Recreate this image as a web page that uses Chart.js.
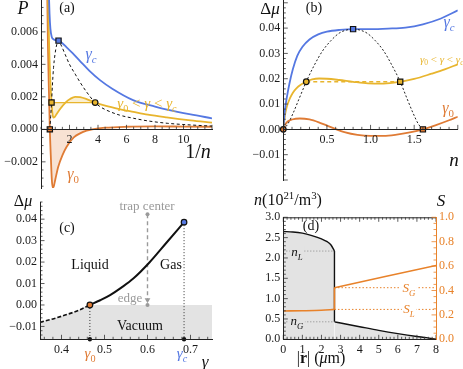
<!DOCTYPE html>
<html><head><meta charset="utf-8">
<script src="https://cdn.jsdelivr.net/npm/chart.js@4/dist/chart.umd.min.js"></script>
<style>
html,body{margin:0;padding:0;background:#fff;}
body{width:463px;height:369px;overflow:hidden;position:relative;}
canvas{position:absolute;}
</style></head><body>
<script>
const FONT='"Liberation Serif","DejaVu Serif",serif';
const BLUE='#5578e2', YEL='#e8b52e', ORG='#df7b35', DORG='#e8822a', GFILL='#e3e3e3', TGRAY='#9a9a9a';

// ---------- (a) P vs 1/n ----------
const aBlueX=[0.56,0.6,0.66,0.75,0.9,1.05,1.23,1.5,1.8,2.2,2.74,3.4,4.14,5,6.46,8,8.84,10.5,12];
const aBlueY=[0.0082,0.0071,0.0062,0.0057,0.00553,0.00549,0.00546,0.0053,0.00505,0.0047,0.0042,0.0036,0.00303,0.0025,0.0018,0.0014,0.00122,0.00092,0.00068];
const aYelX=[0.5,0.56,0.65,0.74,0.8,0.87,0.95,1.1,1.3,1.5,1.75,2.04,2.4,2.74,3.2,3.8,4.5,5.5,6.48,7.5,8.82,10.5,12];
const aYelY=[0.0082,0.0055,0.0031,0.00165,0.001,0.00072,0.00075,0.00095,0.0012,0.00143,0.00168,0.00187,0.002,0.00198,0.00186,0.00165,0.00146,0.00125,0.00108,0.00091,0.00074,0.00055,0.00041];
const aOrgX=[0.44,0.49,0.56,0.62,0.7,0.76,0.83,0.9,1.0,1.21,1.5,1.8,2.3,2.74,3.2,3.6,4.5,6,8,10,12];
const aOrgY=[0.0082,0.005,0.0022,0,-0.0019,-0.0031,-0.0036,-0.0035,-0.0031,-0.0023,-0.0016,-0.00107,-0.0005,-0.00025,-0.00008,0,0.0001,0.00016,0.00018,0.00017,0.00016];
const aDashX=[0.62,0.68,0.74,0.8,0.88,0.98,1.1,1.23,1.4,1.7,2.0,2.4,2.74,3.2,3.8,4.14,4.5,5.5,6.5,7.5,8.9,10.5,12];
const aDashY=[0,0.0008,0.00165,0.0027,0.0038,0.0046,0.0052,0.00546,0.0052,0.0046,0.004,0.0034,0.0029,0.0023,0.00164,0.0014,0.00122,0.00088,0.00068,0.00052,0.00037,0.00027,0.0002];
const aMaxP=0.00165, aMaxX=[0.74,3.8];      // Maxwell line of the middle curve
const aOrgZeroX=[0.62,3.6];                 // shaded region of gamma0 curve
const aMarkX=[0.62,0.74,1.23,3.8], aMarkY=[0,0.00165,0.00546,0.00165];
const aYTicks=[-0.002,0,0.002,0.004,0.006], aXTicks=[2,4,6,8,10];

// ---------- (b) Δμ vs n ----------
const bBlueX=[0,0.01,0.02,0.04,0.07,0.11,0.16,0.22,0.3,0.4,0.5,0.65,0.8,1.0,1.2,1.4,1.6,1.8,2.0];
const bBlueY=[0,0.0045,0.008,0.0125,0.018,0.0238,0.029,0.0326,0.0355,0.0375,0.0386,0.0393,0.0396,0.0396,0.0398,0.0402,0.0415,0.0437,0.047];
const bYelX=[0,0.01,0.02,0.04,0.075,0.11,0.15,0.2,0.263,0.33,0.41,0.5,0.64,0.8,0.97,1.15,1.34,1.5,1.7,1.85,2.0];
const bYelY=[0,0.003,0.0058,0.0089,0.0122,0.0145,0.0162,0.0176,0.0188,0.0197,0.0201,0.02,0.0195,0.0188,0.0182,0.0181,0.0188,0.0199,0.022,0.0237,0.0257];
const bOrgX=[0,0.02,0.05,0.1,0.19,0.3,0.42,0.5,0.6,0.7,0.85,1.0,1.15,1.3,1.45,1.6,1.75,1.9,2.0];
const bOrgY=[0,0.0018,0.0031,0.0039,0.0043,0.0039,0.0026,0.0015,0.0001,-0.0011,-0.0022,-0.0026,-0.0026,-0.0021,-0.0012,0,0.0017,0.0036,0.005];
const bDashX=[0,0.05,0.11,0.18,0.263,0.35,0.45,0.55,0.64,0.72,0.8,0.88,0.96,1.05,1.15,1.25,1.34,1.42,1.49,1.55,1.6];
const bDashY=[0,0.002,0.0062,0.012,0.0188,0.025,0.031,0.0352,0.038,0.0392,0.0396,0.0392,0.038,0.0352,0.031,0.025,0.0188,0.012,0.0062,0.002,0];
const bMaxMu=0.0188, bMaxX=[0.263,1.34];
const bMarkX=[0,0.263,0.8,1.34,1.6], bMarkY=[0,0.0188,0.0396,0.0188,0];
const bYTicks=[-0.01,0,0.01,0.02,0.03,0.04], bXTicks=[0.5,1.0,1.5];

// ---------- (c) phase diagram ----------
const cSolidX=[0.466,0.49,0.513,0.54,0.567,0.605,0.644,0.685];
const cSolidY=[0,0.0022,0.0046,0.0082,0.0123,0.0199,0.029,0.0386];
const cDashX=[0.35,0.38,0.41,0.44,0.466];
const cDashY=[-0.0081,-0.0065,-0.0046,-0.0025,0];
const gamma0=0.466, gammaC=0.685, muC=0.0386;
const trapX=0.6, trapTop=0.0423, trapEdge=0;
const cYTicks=[-0.01,0,0.01,0.02,0.03,0.04], cXTicks=[0.4,0.5,0.6,0.7];

// ---------- (d) density & entropy profiles ----------
const rJump=2.68, nL=2.17, nG=0.43, SL=0.245, SG=0.423;
const dLiqR=[0,0.5,1.0,1.5,2.0,2.3,2.5,2.68], dLiqN=[2.65,2.64,2.61,2.55,2.47,2.4,2.32,2.17];
const dGasR=[2.68,3,4,5,6,7,7.5,8], dGasN=[0.43,0.4,0.31,0.22,0.14,0.07,0.04,0];
const sLiqR=[0,1,2,2.68], sLiqS=[0.232,0.234,0.238,0.245];
const sGasR=[2.68,8], sGasS=[0.423,0.605];
const dXTicks=[0,1,2,3,4,5,6,7,8], dYTicks=[0,0.5,1,1.5,2,2.5,3], dSTicks=[0,0.2,0.4,0.6,0.8,1];

// ---------- helpers ----------
const xy=(xs,ys)=>xs.map((x,i)=>({x,y:ys[i]}));
function line(xs,ys,o){return Object.assign({type:'line',data:xy(xs,ys),borderWidth:1.8,pointRadius:0,fill:false,cubicInterpolationMode:'monotone',order:3},o);}
function straight(xs,ys,o){return Object.assign({type:'line',data:xy(xs,ys),borderWidth:1,pointRadius:0,fill:false,tension:0,order:4},o);}
function marks(xs,ys,styles,colors,o){return Object.assign({type:'line',data:xy(xs,ys),showLine:false,pointStyle:styles,
  pointRadius:styles.map(s=>s==='rect'?3.7:2.8),pointBackgroundColor:colors,pointBorderColor:'#111',pointBorderWidth:1.2,clip:false,order:0},o);}
const minus=(v,d)=>(v<0?'\u2212':'')+Math.abs(v).toFixed(d);
function lin(min,max,pos,labels,fmt,color){
  return {type:'linear',min,max,position:pos,bounds:'data',
    afterBuildTicks:s=>{s.ticks=labels.map(v=>({value:v}));},
    grid:{display:false,drawTicks:false},
    border:{display:true,color:color||'#222',width:1,z:1},
    ticks:{autoSkip:false,maxRotation:0,padding:3,z:2,color:color||'#1a1a1a',font:{family:FONT,size:12},callback:v=>fmt(v)}
  };
}
function segFont(f,size){const s=(f.includes('_')||f.includes('^'))?size*0.68:size;return (f.includes('i')?'italic ':'')+(f.includes('B')?'bold ':'')+s+'px '+FONT;}
function drawRich(ctx,x,y,segs,size,color,align,bg){
  ctx.save();ctx.textBaseline='alphabetic';ctx.textAlign='left';
  let w=0;const ms=segs.map(([t,f=''])=>{ctx.font=segFont(f,size);const m=ctx.measureText(t).width;w+=m;return m;});
  let cx=align==='left'?x:align==='right'?x-w:x-w/2;
  const base=y+size*0.33;
  if(bg){ctx.fillStyle=bg;ctx.fillRect(cx-1.5,y-size*0.45,w+3,size*0.95);}
  ctx.fillStyle=color;
  segs.forEach(([t,f=''],i)=>{ctx.font=segFont(f,size);let dy=0;if(f.includes('_'))dy=size*0.25;if(f.includes('^'))dy=-size*0.4;ctx.fillText(t,cx,base+dy);cx+=ms[i];});
  ctx.restore();
}
const notesPlugin={id:'notes',afterDraw(chart,args,opts){
  const ctx=chart.ctx,off=opts.offset||[0,0];
  (opts.items||[]).forEach(n=>drawRich(ctx,n.x-off[0],n.y-off[1],n.segs,n.size,n.color||'#111',n.align||'center',n.bg));
}};
const ticksPlugin={id:'axisTicks',afterDatasetsDraw(chart,args,opts){
  const ctx=chart.ctx,ca=chart.chartArea;
  ctx.save();
  if(opts.frameTop){ctx.strokeStyle='#222';ctx.lineWidth=1;ctx.beginPath();ctx.moveTo(ca.left,ca.top+0.5);ctx.lineTo(ca.right,ca.top+0.5);ctx.stroke();}
  (opts.list||[]).forEach(t=>{
    const sc=chart.scales[t.scale];
    let base;
    if(typeof t.at==='object')base=chart.scales[t.at.scale].getPixelForValue(t.at.value);
    else base={top:ca.top,bottom:ca.bottom,left:ca.left,right:ca.right}[t.at];
    ctx.strokeStyle=t.color||'#333';ctx.lineWidth=0.8;
    const draw=(v,len)=>{if(v<sc.min-1e-9||v>sc.max+1e-9)return;const p=sc.getPixelForValue(v);ctx.beginPath();
      if(sc.isHorizontal()){ctx.moveTo(p,base);ctx.lineTo(p,base+t.dir*len);}else{ctx.moveTo(base,p);ctx.lineTo(base+t.dir*len,p);}ctx.stroke();};
    t.majors.forEach(v=>draw(v,4.5));
    const st=t.minor;
    for(let k=Math.ceil(sc.min/st-1e-9);k*st<=sc.max+1e-9;k++){const v=k*st;if(t.majors.some(m=>Math.abs(m-v)<st*0.01))continue;draw(v,2.5);}
  });
  ctx.restore();
}};
Chart.register(notesPlugin,ticksPlugin);

function makeChart(rect,area,datasets,scales,ticks,notes,frameTop){
  const cv=document.createElement('canvas');
  cv.width=rect[2];cv.height=rect[3];cv.style.left=rect[0]+'px';cv.style.top=rect[1]+'px';
  document.body.appendChild(cv);
  const pad={left:area[0]-rect[0],top:area[1]-rect[1],right:rect[0]+rect[2]-area[2],bottom:rect[1]+rect[3]-area[3]};
  Object.values(scales).forEach(s=>{
    const p=s.position;
    if(typeof p==='string'){
      const size=pad[p];pad[p]=0;
      s.afterFit=sc=>{if(sc.isHorizontal())sc.height=size;else sc.width=size;};
    }else{
      s.afterFit=sc=>{if(sc.isHorizontal())sc.height=0;else sc.width=0;};
    }
  });
  return new Chart(cv,{type:'line',data:{datasets},options:{
    responsive:false,maintainAspectRatio:false,animation:false,devicePixelRatio:1,events:[],
    layout:{padding:pad},
    scales,
    plugins:{legend:{display:false},tooltip:{enabled:false},
      axisTicks:{list:ticks,frameTop:!!frameTop},
      notes:{offset:[rect[0],rect[1]],items:notes}}
  }});
}
const g0=[['\u03b3','i'],['0','_']], gc=[['\u03b3','i'],['c','i_']];
const rangeLabel=g0.concat([[' < ',''],['\u03b3','i'],[' < ','']]).concat(gc);
const inRange=(xs,ys,lo,hi)=>xy(xs,ys).filter(p=>p.x>=lo-1e-9&&p.x<=hi+1e-9);

// ---------- chart (a) ----------
makeChart([0,-12,236,212],[41,0,212,188],[
  marks(aMarkX,aMarkY,['rect','rect','rect','circle'],[ORG,YEL,BLUE,YEL]),
  line(aDashX,aDashY,{borderColor:'#111',borderWidth:1,borderDash:[3,2.5],order:2}),
  line(aBlueX,aBlueY,{borderColor:BLUE}),
  line(aYelX,aYelY,{borderColor:YEL}),
  line(aOrgX,aOrgY,{borderColor:ORG}),
  straight(aMaxX,[aMaxP,aMaxP],{borderColor:YEL,borderWidth:1.2}),
  {type:'line',data:inRange(aYelX,aYelY,aMaxX[0],aMaxX[1]),borderColor:'transparent',borderWidth:0,pointRadius:0,fill:{value:aMaxP},backgroundColor:'rgba(233,181,46,0.22)',cubicInterpolationMode:'monotone',order:9},
  {type:'line',data:inRange(aOrgX,aOrgY,aOrgZeroX[0],aOrgZeroX[1]),borderColor:'transparent',borderWidth:0,pointRadius:0,fill:{value:0},backgroundColor:'rgba(223,123,53,0.22)',cubicInterpolationMode:'monotone',order:9}
],{
  x:lin(0,12,{y:0},aXTicks,v=>String(v)),
  y:lin(-0.00361,0.00796,'left',aYTicks,v=>minus(v,3))
},[
  {scale:'x',at:{scale:'y',value:0},dir:-1,majors:[2,4,6,8,10,12],minor:0.5},
  {scale:'y',at:'left',dir:1,majors:aYTicks,minor:0.0005}
],[
  {x:23,y:8,segs:[['P','i']],size:18},
  {x:67,y:7,segs:[['(a)','']],size:14},
  {x:91,y:54,segs:gc,size:16,color:BLUE},
  {x:147,y:103,segs:rangeLabel,size:15,color:YEL},
  {x:73,y:174,segs:g0,size:16,color:ORG},
  {x:198,y:151,segs:[['1/',''],['n','i']],size:20}
]);

// ---------- chart (b) ----------
makeChart([240,-12,223,204],[283.3,0,461.3,180],[
  marks(bMarkX,bMarkY,['circle','circle','rect','rect','rect'],[ORG,YEL,BLUE,YEL,ORG]),
  line(bDashX,bDashY,{borderColor:'#222',borderWidth:1,borderDash:[2,2],order:2}),
  straight(bMaxX,[bMaxMu,bMaxMu],{borderColor:YEL,borderWidth:1.3,borderDash:[4,3]}),
  line(bBlueX,bBlueY,{borderColor:BLUE}),
  line(bYelX,bYelY,{borderColor:YEL}),
  line(bOrgX,bOrgY,{borderColor:ORG})
],{
  x:lin(0,2,{y:0},bXTicks,v=>v.toFixed(1)),
  y:lin(-0.02,0.0511,'left',bYTicks,v=>minus(v,2))
},[
  {scale:'x',at:{scale:'y',value:0},dir:-1,majors:[0.5,1,1.5,2],minor:0.1},
  {scale:'y',at:'left',dir:1,majors:[-0.02,-0.01,0,0.01,0.02,0.03,0.04,0.05],minor:0.002}
],[
  {x:270,y:8,segs:[['\u0394',''],['\u03bc','i']],size:17},
  {x:314,y:7,segs:[['(b)','']],size:14},
  {x:449,y:22,segs:gc,size:16,color:BLUE},
  {x:420,y:59,segs:rangeLabel,size:11,color:YEL,align:'left'},
  {x:448,y:108,segs:g0,size:16,color:ORG},
  {x:454,y:160,segs:[['n','i']],size:19}
]);

// ---------- chart (c) ----------
makeChart([0,188,236,181],[40,202,212,339.3],[
  marks([gamma0,gammaC],[0,muC],['circle','circle'],[ORG,BLUE]),
  marks([gamma0,gammaC],[-0.016,-0.016],['circle','circle'],['#111','#111'],{pointRadius:2.2,pointBorderWidth:0}),
  marks([trapX,trapX],[trapTop,trapEdge],['circle','circle'],[TGRAY,TGRAY],{pointRadius:2,pointBorderWidth:0}),
  marks([trapX],[trapEdge+0.0024],['triangle'],[TGRAY],{pointRadius:3.3,pointBorderWidth:0,rotation:180}),
  straight([trapX,trapX],[trapTop,trapEdge+0.002],{borderColor:TGRAY,borderWidth:1.4,borderDash:[4,3]}),
  straight([gamma0,gamma0],[0,-0.016],{borderColor:'#333',borderWidth:1,borderDash:[1,2]}),
  straight([gammaC,gammaC],[muC,-0.016],{borderColor:'#333',borderWidth:1,borderDash:[1,2]}),
  line(cSolidX,cSolidY,{borderColor:'#111',borderWidth:2}),
  line(cDashX,cDashY,{borderColor:'#111',borderWidth:1.6,borderDash:[4,2]}),
  {type:'line',data:xy(cDashX.concat([0.75]),cDashY.concat([0])),borderColor:'transparent',borderWidth:0,pointRadius:0,fill:'start',backgroundColor:GFILL,cubicInterpolationMode:'monotone',order:9}
],{
  x:lin(0.35,0.75,'bottom',cXTicks,v=>v.toFixed(1)),
  y:lin(-0.016,0.048,'left',cYTicks,v=>minus(v,2))
},[
  {scale:'x',at:'bottom',dir:-1,majors:cXTicks,minor:0.02},
  {scale:'y',at:'left',dir:1,majors:cYTicks,minor:0.002}
],[
  {x:23,y:201,segs:[['\u0394',''],['\u03bc','i']],size:16},
  {x:67,y:227,segs:[['(c)','']],size:14},
  {x:147,y:206,segs:[['trap center','']],size:13,color:TGRAY},
  {x:90,y:264,segs:[['Liquid','']],size:14},
  {x:171,y:264,segs:[['Gas','']],size:14},
  {x:130,y:298,segs:[['edge','']],size:13,color:TGRAY},
  {x:140,y:325,segs:[['Vacuum','']],size:14},
  {x:90,y:353,segs:g0,size:15,color:ORG},
  {x:182,y:353,segs:gc,size:15,color:BLUE},
  {x:205,y:361,segs:[['\u03b3','i']],size:17}
]);

// ---------- chart (d) ----------
makeChart([236,188,227,181],[283.3,217.3,436,339.3],[
  line(dLiqR,dLiqN,{borderColor:'#111',borderWidth:1.4,fill:'origin',backgroundColor:GFILL,order:6}),
  line(dGasR,dGasN,{borderColor:'#111',borderWidth:1.4,fill:'origin',backgroundColor:GFILL,order:6}),
  straight([rJump,rJump],[nL,nG],{borderColor:'#111',borderWidth:1.4,order:5}),
  straight([0,rJump],[nL,nL],{borderColor:'#888',borderWidth:1,borderDash:[1,2],order:4}),
  straight([0,rJump],[nG,nG],{borderColor:'#888',borderWidth:1,borderDash:[1,2],order:4}),
  straight([rJump,8],[SG,SG],{borderColor:DORG,borderWidth:1,borderDash:[1.5,2],yAxisID:'y2',order:4}),
  straight([rJump,8],[SL,SL],{borderColor:DORG,borderWidth:1,borderDash:[1.5,2],yAxisID:'y2',order:4}),
  line(sLiqR,sLiqS,{borderColor:DORG,borderWidth:1.6,yAxisID:'y2',order:1}),
  line(sGasR,sGasS,{borderColor:DORG,borderWidth:1.6,yAxisID:'y2',order:1}),
  straight([rJump,rJump],[SL,SG],{borderColor:DORG,borderWidth:1.6,yAxisID:'y2',order:1})
],{
  x:lin(0,8,'bottom',dXTicks,v=>String(v)),
  y:lin(0,3,'left',dYTicks,v=>v.toFixed(1)),
  y2:lin(0,1,'right',dSTicks,v=>v.toFixed(1),DORG)
},[
  {scale:'x',at:'bottom',dir:-1,majors:dXTicks,minor:0.2},
  {scale:'x',at:'top',dir:1,majors:dXTicks,minor:0.2},
  {scale:'y',at:'left',dir:1,majors:dYTicks,minor:0.1},
  {scale:'y2',at:'right',dir:-1,majors:dSTicks,minor:0.05,color:DORG}
],[
  {x:288,y:200,segs:[['n','i'],['(10',''],['21','^'],['/m',''],['3','^'],[')','']],size:16},
  {x:441,y:200,segs:[['S','i']],size:17},
  {x:311,y:225,segs:[['(d)','']],size:14},
  {x:297,y:252,segs:[['n','i'],['L','i_']],size:13,bg:GFILL},
  {x:297,y:321,segs:[['n','i'],['G','i_']],size:13,bg:GFILL},
  {x:409,y:288,segs:[['S','i'],['G','i_']],size:13,color:DORG,bg:'#fff'},
  {x:409,y:309,segs:[['S','i'],['L','i_']],size:13,color:DORG,bg:'#fff'},
  {x:321,y:358,segs:[['|',''],['r','B'],['| (',''],['\u03bc','i'],['m)','']],size:16}
],true);
</script>
</body></html>
